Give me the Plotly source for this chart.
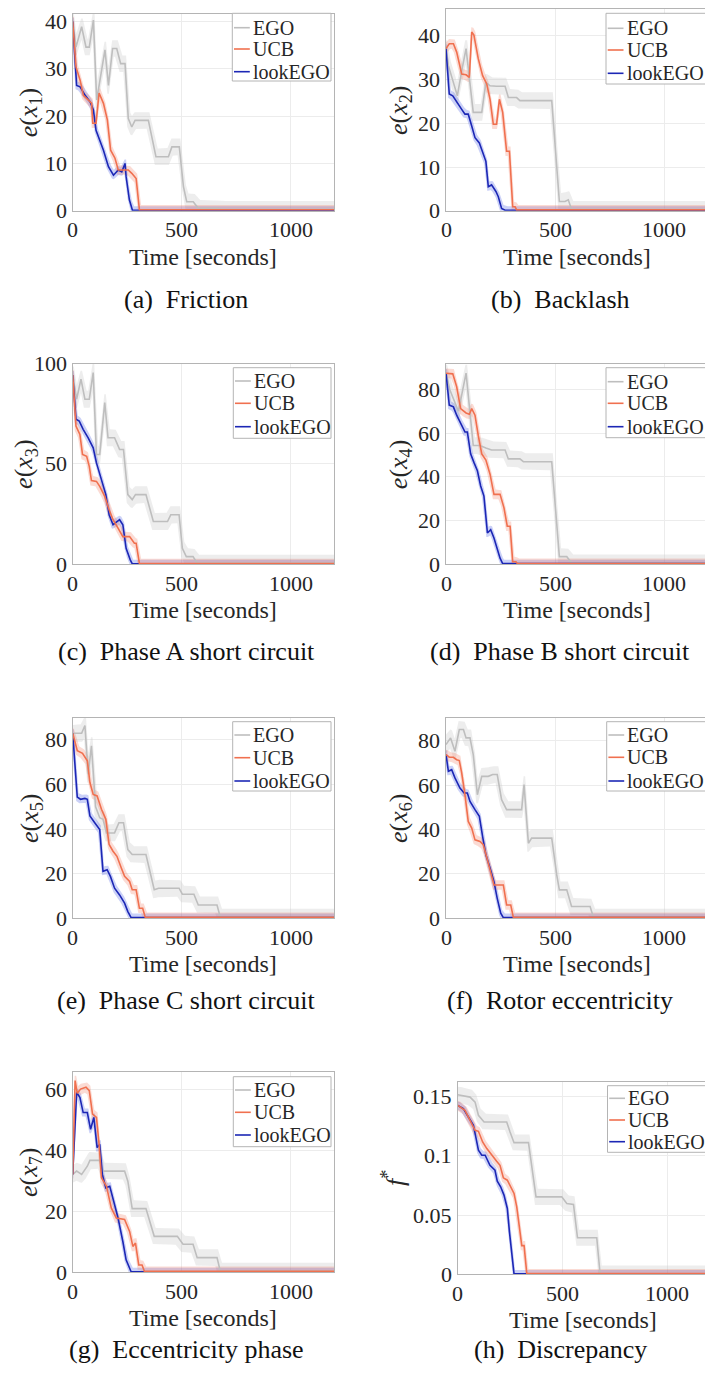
import numpy as np
import plotly.graph_objects as go

W, H = 705, 1380
SERIF = "Liberation Serif"

# ---------------- data: time [s] and error per method, one block per panel -------------
# (a) Friction
A_T_EGO = [0, 15, 41, 61, 76, 95, 110, 148, 164, 183, 202, 220, 240, 255, 271, 286, 347, 382, 439, 455, 489, 508, 523, 553, 576, 668, 683, 1200]
A_EGO = [40, 34.6, 38.9, 34.6, 34.6, 40.3, 23.4, 34, 26.5, 34.3, 34.3, 31.1, 31.1, 19.5, 17.7, 19.1, 19.1, 11.4, 11.4, 13.5, 13.5, 5.1, 1.9, 1.9, 0.5, 0.5, 0.3, 0.3]
A_T_UCB = [0, 15, 34, 49, 72, 87, 92, 107, 121, 141, 159, 174, 194, 209, 255, 271, 291, 306, 1200]
A_UCB = [40, 30.4, 27.6, 24.4, 23.4, 22.7, 18.5, 18.5, 24.9, 22.7, 19.2, 12.8, 11.1, 8.6, 8.6, 7.9, 6.8, 0.2, 0.2]
A_T_LOOK = [0, 11, 18, 34, 57, 80, 95, 107, 125, 141, 164, 187, 209, 225, 240, 245, 260, 274, 1200]
A_LOOK = [40, 30.4, 26.5, 26.2, 24.4, 23, 21.3, 17, 14.9, 12.8, 9.3, 7.5, 8.6, 8.2, 10, 7.2, 2.3, 0.1, 0.1]

# (b) Backlash
B_T_EGO = [0, 11, 30, 52, 72, 92, 125, 164, 183, 202, 232, 271, 286, 324, 339, 485, 520, 546, 561, 576, 1200]
B_EGO = [37.1, 33.2, 30, 26.3, 32, 37.1, 22.5, 22.5, 29.4, 28.6, 28.5, 28.5, 25.9, 25.9, 25.2, 25.2, 2.1, 2.1, 2.5, 0.3, 0.3]
B_T_UCB = [0, 15, 34, 49, 72, 92, 107, 118, 128, 148, 168, 187, 202, 217, 232, 245, 260, 278, 291, 306, 317, 324, 1200]
B_UCB = [37.1, 38.2, 38.2, 36.3, 31.3, 31.1, 30.5, 40.9, 40.2, 34.8, 30.9, 29, 25.5, 19.8, 19.8, 25.5, 22.5, 13.6, 13.6, 0.9, 0.9, 0.2, 0.2]
B_T_LOOK = [0, 15, 31, 49, 72, 87, 102, 118, 133, 153, 171, 183, 194, 209, 229, 240, 255, 271, 1200]
B_LOOK = [37.1, 26.7, 26.3, 24.8, 23.2, 22.1, 22.1, 19.4, 16.7, 15.5, 12.8, 11.3, 5.5, 5.9, 4.4, 3.2, 0.5, 0.1, 0.1]

# (c) Phase A short circuit
C_T_EGO = [0, 18, 38, 56, 76, 94, 109, 124, 147, 162, 192, 215, 233, 253, 273, 288, 336, 370, 435, 450, 488, 503, 521, 552, 571, 1200]
C_EGO = [94.3, 82.2, 92.2, 82.2, 82.2, 95.5, 54.7, 54.7, 80.5, 63, 63, 57.2, 57.2, 34.7, 32.2, 34.7, 34.7, 21.3, 21.3, 24.7, 24.7, 8, 3.8, 3.8, 0.6, 0.6]
C_T_UCB = [0, 15, 33, 45, 64, 76, 86, 109, 124, 147, 167, 185, 208, 230, 261, 283, 291, 306, 1200]
C_UCB = [94.3, 68.8, 64.7, 54.7, 53.8, 48.8, 41.7, 41.3, 38.8, 33.8, 27.2, 22.2, 18, 13.8, 13.8, 10.5, 10.5, 0.4, 0.4]
C_T_LOOK = [0, 15, 30, 48, 71, 94, 109, 132, 152, 167, 185, 203, 215, 230, 245, 264, 273, 1200]
C_LOOK = [94.3, 72.2, 71.3, 67.2, 63, 58, 50.5, 42.2, 34.7, 24.7, 19.7, 21.3, 22.2, 19.7, 8, 2.2, 0.3, 0.3]

# (d) Phase B short circuit
D_T_EGO = [0, 18, 57, 92, 125, 156, 183, 209, 271, 286, 339, 355, 485, 520, 554, 576, 1200]
D_EGO = [87.4, 79.7, 70, 87.4, 54.3, 54.3, 53.2, 52.3, 52.3, 48.2, 48.2, 46.9, 46.9, 3.5, 3.5, 0.6, 0.6]
D_T_UCB = [0, 11, 31, 49, 67, 92, 107, 118, 133, 148, 164, 183, 202, 220, 248, 266, 281, 294, 306, 321, 327, 1200]
D_UCB = [87.4, 87.4, 87.1, 81.2, 71.2, 69.2, 68.6, 71.2, 68.2, 58.9, 50.5, 47.7, 41.2, 32, 32, 25.8, 17.4, 17.4, 1.2, 1.2, 0.4, 0.4]
D_T_LOOK = [0, 15, 34, 49, 72, 87, 98, 113, 128, 144, 159, 174, 190, 205, 220, 235, 248, 260, 1200]
D_LOOK = [87.4, 72.8, 72, 68.2, 63.5, 60.5, 60.5, 50.5, 46.6, 42.8, 35.8, 31.2, 14.3, 15.8, 12, 7.4, 2.8, 0.3, 0.3]

# (e) Phase C short circuit
E_T_EGO = [0, 41, 56, 71, 86, 105, 124, 139, 155, 192, 212, 233, 253, 273, 336, 374, 394, 488, 503, 556, 576, 662, 677, 1200]
E_EGO = [83, 83, 86.5, 64.7, 77.4, 50, 45.1, 44.4, 38.3, 38.3, 42.9, 42.9, 30.8, 28.6, 28.6, 12.8, 13.5, 13.5, 10.8, 10.8, 6, 6, 0.5, 0.5]
E_T_UCB = [0, 11, 21, 45, 67, 79, 94, 112, 132, 152, 167, 185, 203, 223, 238, 261, 273, 291, 306, 321, 333, 1200]
E_UCB = [83, 79, 75.2, 74, 70.7, 60.9, 55.6, 54.9, 48.9, 44.4, 33.1, 30.1, 27.8, 22.6, 18.8, 16.5, 12.8, 12.8, 4.5, 4.5, 0.4, 0.4]
E_T_LOOK = [0, 11, 21, 36, 56, 67, 79, 101, 124, 139, 158, 173, 192, 215, 238, 253, 268, 1200]
E_LOOK = [83, 66.2, 54.4, 53.4, 53.8, 53.4, 45.9, 42.9, 39.8, 21.1, 21.8, 18.8, 13.5, 10.5, 6.8, 3, 0.3, 0.3]

# (f) Rotor eccentricity
F_T_EGO = [0, 21, 41, 61, 80, 92, 110, 125, 144, 164, 194, 214, 235, 255, 278, 347, 358, 378, 393, 485, 508, 520, 554, 576, 661, 676, 1200]
F_EGO = [78.2, 81.2, 75.2, 85, 85, 81.2, 81.2, 73.7, 55.6, 63.9, 63.9, 64.7, 64.7, 53.4, 48.9, 48.9, 60.2, 33.8, 36.1, 36.1, 19.5, 12.8, 12.8, 5.3, 5.3, 0.5, 0.5]
F_T_UCB = [0, 15, 34, 49, 61, 72, 87, 102, 118, 133, 156, 171, 190, 205, 220, 263, 278, 297, 309, 1200]
F_UCB = [73.7, 72.5, 72.5, 71.4, 71, 65.4, 55.6, 43.6, 40.6, 35.3, 34.6, 33.1, 26.3, 21.1, 15, 15, 6, 6, 0.4, 0.4]
F_T_LOOK = [0, 11, 26, 41, 64, 83, 98, 110, 133, 153, 168, 183, 202, 220, 235, 251, 263, 1200]
F_LOOK = [73.7, 66.2, 66.9, 63.2, 58.6, 56.4, 56.4, 52.6, 48.9, 45.9, 36.8, 28.6, 22.6, 16.5, 9, 2.3, 0.3, 0.3]

# (g) Eccentricity phase
G_T_EGO = [0, 18, 41, 67, 79, 124, 139, 238, 253, 273, 336, 355, 374, 480, 506, 552, 571, 662, 677, 1200]
G_EGO = [32.1, 33.2, 32.1, 34.8, 36.7, 36.7, 33.2, 33.2, 29.9, 20.9, 20.9, 16.2, 11.8, 11.8, 9.2, 9.2, 4.8, 4.8, 0.4, 0.4]
G_T_UCB = [0, 11, 21, 36, 61, 76, 91, 109, 121, 132, 155, 177, 200, 238, 261, 276, 288, 303, 318, 329, 1200]
G_UCB = [32.1, 62.9, 58.7, 60.1, 60.7, 59.6, 51.9, 50.8, 42, 31, 28.2, 21.1, 17.8, 17.3, 13.4, 8.5, 9.6, 2.4, 2.4, 0.3, 0.3]
G_T_LOOK = [0, 18, 33, 48, 67, 82, 97, 112, 124, 136, 152, 170, 188, 208, 230, 245, 268, 1200]
G_LOOK = [32.1, 59, 57.4, 52.4, 52.4, 46.9, 50.8, 40.9, 42, 32.1, 27.7, 28.2, 23.3, 17.8, 10.1, 4.1, 0.2, 0.2]

# (h) Discrepancy
H_T_EGO = [0, 59, 83, 99, 126, 234, 250, 269, 338, 354, 374, 497, 521, 553, 572, 664, 680, 1200]
H_EGO = [0.1517, 0.1497, 0.1455, 0.1343, 0.1287, 0.1287, 0.1202, 0.1112, 0.1112, 0.0921, 0.0654, 0.0654, 0.0598, 0.059, 0.0309, 0.0309, 0.0005, 0.0005]
H_T_UCB = [0, 35, 59, 83, 99, 119, 139, 162, 186, 202, 218, 237, 253, 269, 282, 295, 306, 317, 330, 1200]
H_UCB = [0.1427, 0.1385, 0.1301, 0.1216, 0.1208, 0.1118, 0.1062, 0.1006, 0.0955, 0.0921, 0.0815, 0.0795, 0.0739, 0.0683, 0.057, 0.0374, 0.0242, 0.0242, 0.0006, 0.0006]
H_T_LOOK = [0, 27, 51, 75, 88, 99, 115, 131, 154, 178, 189, 205, 221, 237, 247, 258, 269, 1200]
H_LOOK = [0.1427, 0.1399, 0.1329, 0.1258, 0.1146, 0.1048, 0.1006, 0.1006, 0.0921, 0.0879, 0.0787, 0.0739, 0.0669, 0.0556, 0.036, 0.0163, 0.0004, 0.0004]

METHODS = ["EGO", "UCB", "lookEGO"]
CAPTIONS = ["(a)  Friction", "(b)  Backlash", "(c)  Phase A short circuit", "(d)  Phase B short circuit",
            "(e)  Phase C short circuit", "(f)  Rotor eccentricity", "(g)  Eccentricity phase", "(h)  Discrepancy"]
Y_LABELS = ["<i>e</i>(<i>x</i><sub>1</sub>)", "<i>e</i>(<i>x</i><sub>2</sub>)", "<i>e</i>(<i>x</i><sub>3</sub>)",
            "<i>e</i>(<i>x</i><sub>4</sub>)", "<i>e</i>(<i>x</i><sub>5</sub>)", "<i>e</i>(<i>x</i><sub>6</sub>)",
            "<i>e</i>(<i>x</i><sub>7</sub>)", "<i>f</i><sup>*</sup>"]
Y_TICKS = [[0, 10, 20, 30, 40], [0, 10, 20, 30, 40], [0, 50, 100], [0, 20, 40, 60, 80],
           [0, 20, 40, 60, 80], [0, 20, 40, 60, 80], [0, 20, 40, 60], [0, 0.05, 0.1, 0.15]]
Y_MAX = [41.6, 46.1, 100, 91.6, 90, 90.3, 65.8, 0.1627]
X_TICKS = [0, 500, 1000]

SERIES = [
    [(A_T_EGO, A_EGO), (A_T_UCB, A_UCB), (A_T_LOOK, A_LOOK)],
    [(B_T_EGO, B_EGO), (B_T_UCB, B_UCB), (B_T_LOOK, B_LOOK)],
    [(C_T_EGO, C_EGO), (C_T_UCB, C_UCB), (C_T_LOOK, C_LOOK)],
    [(D_T_EGO, D_EGO), (D_T_UCB, D_UCB), (D_T_LOOK, D_LOOK)],
    [(E_T_EGO, E_EGO), (E_T_UCB, E_UCB), (E_T_LOOK, E_LOOK)],
    [(F_T_EGO, F_EGO), (F_T_UCB, F_UCB), (F_T_LOOK, F_LOOK)],
    [(G_T_EGO, G_EGO), (G_T_UCB, G_UCB), (G_T_LOOK, G_LOOK)],
    [(H_T_EGO, H_EGO), (H_T_UCB, H_UCB), (H_T_LOOK, H_LOOK)],
]

# spread of the shaded band (fraction of the axis height) per method
BAND_SPREAD = [0.042, 0.024, 0.02]

# ---------------- styling -------------------------------------------------------------
LINE_COL = ["#bebebe", "#f0704f", "#1c27b5"]
BAND_COL = ["rgba(200,200,200,0.33)", "rgba(242,125,100,0.28)", "rgba(70,90,225,0.28)"]
DRAW_ORDER = [0, 2, 1]
TEXT_COL = "#262626"
TICK_FONT = dict(family=SERIF, size=22, color=TEXT_COL)

# plot rectangles in pixels: (left, right, top, bottom)
PANELS = [
    (72.7, 334.3, 14.0, 210.7), (446.0, 705.0, 9.3, 210.7),
    (72.7, 334.3, 363.5, 564.3), (446.0, 705.0, 364.0, 564.3),
    (72.7, 334.3, 717.7, 918.3), (446.0, 705.0, 717.7, 918.3),
    (72.7, 334.3, 1071.7, 1272.3), (457.7, 705.0, 1081.7, 1274.3),
]
X_SCALE = [0.218, 0.218, 0.218, 0.218, 0.218, 0.218, 0.218, 0.2094]  # px per second
LEGEND_BOX = [  # left, top, bottom, text rows y
    (232.3, 13.3, 81.0, (27.7, 49.0, 71.7)), (606.0, 13.3, 84.0, (28.3, 50.0, 73.3)),
    (233.3, 367.7, 438.3, (381.0, 403.3, 426.7)), (606.0, 367.7, 437.7, (381.7, 403.3, 426.7)),
    (232.7, 721.7, 791.0, (735.0, 757.7, 781.0)), (606.7, 721.7, 791.0, (735.0, 757.3, 781.0)),
    (233.3, 1076.7, 1146.7, (1090.0, 1112.3, 1135.0)), (607.5, 1085.7, 1152.3, (1098.3, 1120.0, 1141.7)),
]
YLABEL_X = [30, 400, 25, 400, 31, 400, 30, 393]
CAPTION_Y = [300, 300, 651, 651, 1000, 1000, 1349, 1349]
CAPTION_X = [186, 560, 186, 560, 186, 560, 186, 560]


def px(x):
    return x / W


def py(y):
    return 1 - y / H


def envelope(t, y, spread, half_window=5):
    grid = np.arange(0.0, 1200.5, 1.0)
    v = np.interp(grid, t, y)
    padded = np.pad(v, half_window, mode="edge")
    win = np.lib.stride_tricks.sliding_window_view(padded, 2 * half_window + 1)
    return grid, win.max(axis=1) + spread, win.min(axis=1) - spread


fig = go.Figure()
layout = {}
shapes = []
annotations = []

for i, (l, r, top, bot) in enumerate(PANELS):
    n = "" if i == 0 else str(i + 1)
    xa, ya = "x" + n, "y" + n
    xmax = (r - l) / X_SCALE[i]
    ymax = Y_MAX[i]

    for m in DRAW_ORDER:
        t, y = SERIES[i][m]
        g, hi, lo = envelope(t, y, BAND_SPREAD[m] * ymax)
        fig.add_trace(go.Scatter(
            x=np.concatenate([g, g[::-1]]), y=np.concatenate([hi, lo[::-1]]),
            fill="toself", fillcolor=BAND_COL[m], line=dict(width=0),
            mode="lines", hoverinfo="skip", showlegend=False, xaxis=xa, yaxis=ya))
    for m in DRAW_ORDER:
        t, y = SERIES[i][m]
        fig.add_trace(go.Scatter(
            x=t, y=y, mode="lines", name=METHODS[m],
            line=dict(color=LINE_COL[m], width=1.6), showlegend=False,
            xaxis=xa, yaxis=ya))

    axis_common = dict(
        showline=True, mirror=True, linecolor="#b4b4b4", linewidth=1,
        showgrid=True, gridcolor="#ececec", gridwidth=1, zeroline=False,
        ticks="", showticklabels=False,
    )
    layout["xaxis" + n] = dict(axis_common, domain=[px(l), px(r)], range=[0, xmax], anchor=ya,
                               tickvals=X_TICKS)
    layout["yaxis" + n] = dict(axis_common, domain=[py(bot), py(top)], range=[0, ymax], anchor=xa,
                               tickvals=Y_TICKS[i])

    # tick labels, placed on the axes' own data coordinates
    for v in X_TICKS:
        annotations.append(dict(
            x=v, xref=xa, y=py(bot + 19.3), yref="paper", text=str(v), showarrow=False,
            xanchor="center", yanchor="middle", font=TICK_FONT))
    for v in Y_TICKS[i]:
        annotations.append(dict(
            x=px(l - 4.2), xref="paper", y=v, yref=ya, text="%g" % v, showarrow=False,
            xanchor="right", yanchor="middle", font=TICK_FONT))

    # axis titles and caption
    annotations.append(dict(
        x=px((l + l + 1200 * X_SCALE[i]) / 2), y=py(bot + 46), xref="paper", yref="paper",
        text="Time [seconds]", showarrow=False, xanchor="center", yanchor="middle",
        font=dict(family=SERIF, size=24, color=TEXT_COL)))
    annotations.append(dict(
        x=px(YLABEL_X[i]), y=py((top + bot) / 2), xref="paper", yref="paper",
        text=Y_LABELS[i], textangle=-90, showarrow=False, xanchor="center", yanchor="middle",
        font=dict(family=SERIF, size=26, color=TEXT_COL)))
    annotations.append(dict(
        x=px(CAPTION_X[i]), y=py(CAPTION_Y[i]), xref="paper", yref="paper",
        text=CAPTIONS[i].replace("  ", "&nbsp;&nbsp;"), showarrow=False, xanchor="center", yanchor="middle",
        font=dict(family=SERIF, size=26, color="#111111")))

    # legend box
    bl, bt, bb, rows = LEGEND_BOX[i]
    br = 720 if r >= 705 else r - 3.3
    shapes.append(dict(type="rect", xref="paper", yref="paper",
                       x0=px(bl), x1=px(br), y0=py(bb), y1=py(bt),
                       line=dict(color="#b4b4b4", width=1), fillcolor="white", layer="above"))
    for m, ry in enumerate(rows):
        shapes.append(dict(type="line", xref="paper", yref="paper",
                           x0=px(bl + 1.7), x1=px(bl + 17.5), y0=py(ry), y1=py(ry),
                           line=dict(color=LINE_COL[m], width=1.6), layer="above"))
        annotations.append(dict(
            x=px(bl + 18.6), y=py(ry), xref="paper", yref="paper", text=METHODS[m],
            showarrow=False, xanchor="left", yanchor="middle",
            font=dict(family=SERIF, size=20, color=TEXT_COL)))

fig.update_layout(
    width=W, height=H, margin=dict(l=0, r=0, t=0, b=0),
    paper_bgcolor="white", plot_bgcolor="white", showlegend=False,
    font=dict(family=SERIF),
    shapes=shapes, annotations=annotations, **layout)

fig.write_html("out.html")
